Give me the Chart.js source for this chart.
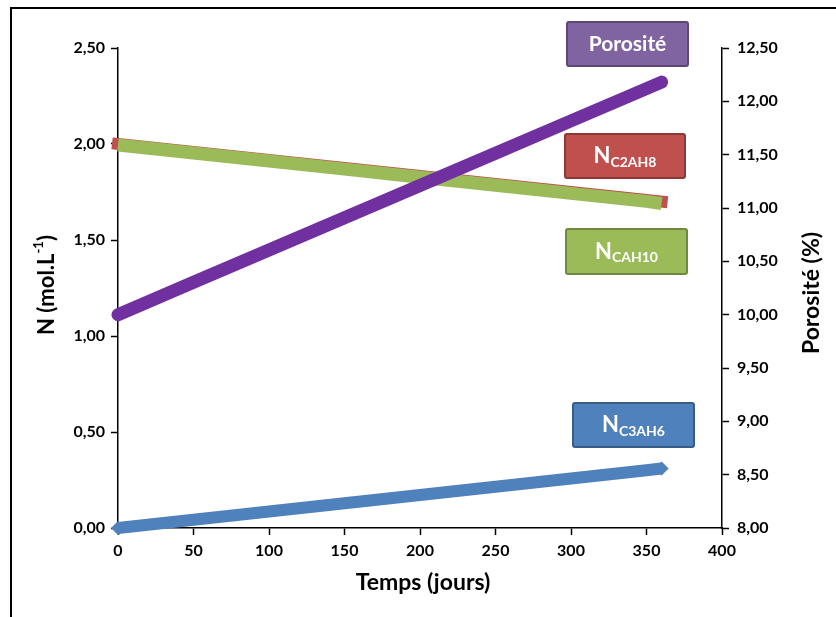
<!DOCTYPE html>
<html>
<head>
<meta charset="utf-8">
<script src="https://cdn.jsdelivr.net/npm/chart.js@4.4.1/dist/chart.umd.min.js"></script>
<style>
  html, body { margin: 0; padding: 0; background: #fff; }
  #wrap { position: relative; width: 836px; height: 617px; }
</style>
</head>
<body>
<div id="wrap"><canvas id="chart"></canvas></div>
<script>
// valeurs
const days = [0, 50, 100, 150, 200, 250, 300, 350, 360];
const porosite = [10.00, 10.303, 10.606, 10.908, 11.211, 11.514, 11.817, 12.119, 12.18];
const nC2AH8 = [2.00, 1.958, 1.917, 1.875, 1.833, 1.792, 1.750, 1.708, 1.70];
const nCAH10 = [1.995, 1.953, 1.911, 1.869, 1.827, 1.785, 1.743, 1.701, 1.69];
const nC3AH6 = [0.00, 0.043, 0.086, 0.129, 0.172, 0.215, 0.258, 0.301, 0.31];

const xTicks = { min: 0, max: 400, step: 50 };
const yTicks = { min: 0, max: 2.5, step: 0.5 };
const y2Ticks = { min: 8, max: 12.5, step: 0.5 };

const FONT = "Lato, 'Open Sans', sans-serif";
const fmt = v => Number(v).toFixed(2).replace(".", ",");
const pts = arr => arr.map((v, i) => ({ x: days[i], y: v }));

// étiquettes encadrées (comme dans Excel)
const boxes = [
  { x: 567, y: 22, w: 121, h: 44, fill: "#8064A2", stroke: "#5C4776", main: "Porosité", sub: "" },
  { x: 565, y: 134, w: 120, h: 44, fill: "#C0504D", stroke: "#8C3836", main: "N", sub: "C2AH8" },
  { x: 566, y: 229, w: 121, h: 45, fill: "#9BBB59", stroke: "#71893F", main: "N", sub: "CAH10" },
  { x: 573, y: 403, w: 121, h: 44, fill: "#4F81BD", stroke: "#385D8A", main: "N", sub: "C3AH6" }
];

function drawRich(ctx, segs, cx, cy, rot) {
  ctx.save();
  ctx.translate(cx, cy);
  ctx.rotate(rot || 0);
  ctx.textBaseline = "middle";
  ctx.textAlign = "left";
  let total = 0;
  segs.forEach(s => {
    ctx.font = "bold " + s.size + "px " + FONT;
    s.w = ctx.measureText(s.t).width;
    total += s.w;
  });
  let x = -total / 2;
  segs.forEach(s => {
    ctx.font = "bold " + s.size + "px " + FONT;
    ctx.fillStyle = s.color || "#000";
    ctx.fillText(s.t, x, s.dy || 0);
    x += s.w;
  });
  ctx.restore();
}

const decor = {
  id: "decor",
  beforeDraw(chart) {
    const ctx = chart.ctx;
    ctx.save();
    ctx.fillStyle = "#000";
    ctx.fillRect(10, 7, 2, 617);
    ctx.fillRect(10, 7, 826, 2);
    ctx.restore();
  },
  afterDraw(chart) {
    const ctx = chart.ctx;
    // titres des axes
    drawRich(ctx, [{ t: "Temps (jours)", size: 23 }], 423, 583, 0);
    drawRich(ctx, [
      { t: "N (mol.L", size: 22 },
      { t: "-1", size: 13, dy: -8 },
      { t: ")", size: 22 }
    ], 47, 285, -Math.PI / 2);
    drawRich(ctx, [{ t: "Porosité (%)", size: 23 }], 812, 293, -Math.PI / 2);

    boxes.forEach(b => {
      ctx.save();
      ctx.fillStyle = b.fill;
      ctx.strokeStyle = b.stroke;
      ctx.lineWidth = 2;
      ctx.beginPath();
      ctx.roundRect(b.x, b.y, b.w, b.h, 2);
      ctx.fill();
      ctx.stroke();
      ctx.restore();
      const segs = [{ t: b.main, size: b.sub ? 22 : 21, color: "#fff" }];
      if (b.sub) segs.push({ t: b.sub, size: 14, dy: 6, color: "#fff" });
      drawRich(ctx, segs, b.x + b.w / 2, b.y + b.h / 2, 0);
    });
  }
};

const tickFont = { family: FONT, size: 16, weight: "bold" };
const gridOpts = { drawOnChartArea: false, color: "#000", tickLength: 7, tickWidth: 1.5 };
const borderOpts = { color: "#000", width: 1.5 };

new Chart(document.getElementById("chart"), {
  type: "line",
  data: {
    datasets: [
      {
        label: "Porosité",
        data: pts(porosite),
        yAxisID: "y2",
        borderColor: "#7030A0",
        backgroundColor: "#7030A0",
        borderWidth: 13,
        borderCapStyle: "round",
        pointRadius: 0,
        tension: 0,
        clip: false
      },
      {
        label: "NCAH10",
        data: pts(nCAH10),
        yAxisID: "y",
        borderColor: "#9BBB59",
        borderWidth: 13,
        borderCapStyle: "butt",
        pointRadius: 0,
        tension: 0,
        clip: false
      },
      {
        label: "NC2AH8",
        data: pts(nC2AH8),
        yAxisID: "y",
        borderColor: "#C0504D",
        borderWidth: 12,
        borderCapStyle: "square",
        pointRadius: 0,
        tension: 0,
        clip: false
      },
      {
        label: "NC3AH6",
        data: pts(nC3AH6),
        yAxisID: "y",
        borderColor: "#4F81BD",
        backgroundColor: "#4F81BD",
        borderWidth: 12,
        borderCapStyle: "butt",
        pointStyle: "rectRot",
        pointRadius: c => (c.dataIndex === 0 || c.dataIndex === nC3AH6.length - 1 ? 7 : 0),
        pointBorderWidth: 0,
        tension: 0,
        clip: false
      }
    ]
  },
  options: {
    responsive: true,
    maintainAspectRatio: false,
    animation: false,
    layout: { padding: { top: 48, left: 0, right: 0, bottom: 0 } },
    plugins: { legend: { display: false }, tooltip: { enabled: false } },
    scales: {
      x: {
        type: "linear",
        min: xTicks.min,
        max: xTicks.max,
        ticks: { stepSize: xTicks.step, color: "#000", font: tickFont, padding: 6, maxRotation: 0 },
        grid: gridOpts,
        border: borderOpts,
        afterFit(s) { s.height = 89; }
      },
      y: {
        position: "left",
        min: yTicks.min,
        max: yTicks.max,
        ticks: { stepSize: yTicks.step, color: "#000", font: tickFont, padding: 6, callback: fmt },
        grid: gridOpts,
        border: borderOpts,
        afterFit(s) { s.width = 118; }
      },
      y2: {
        position: "right",
        min: y2Ticks.min,
        max: y2Ticks.max,
        ticks: { stepSize: y2Ticks.step, color: "#000", font: tickFont, padding: 8, callback: fmt },
        grid: gridOpts,
        border: borderOpts,
        afterFit(s) { s.width = 114; }
      }
    }
  },
  plugins: [decor]
});
</script>
</body>
</html>
